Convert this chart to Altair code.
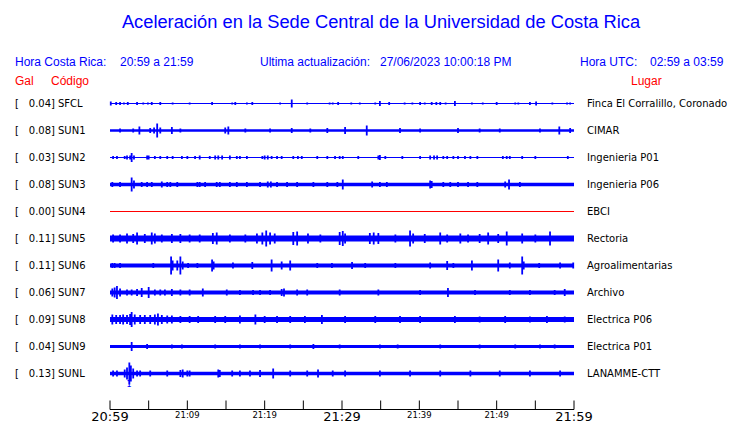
import altair as alt
import pandas as pd

# ---------------- data ----------------
stations = ["SFCL", "SUN1", "SUN2", "SUN3", "SUN4", "SUN5", "SUN6", "SUN7", "SUN8", "SUN9", "SUNL"]
gal = ["0.04", "0.08", "0.03", "0.08", "0.00", "0.11", "0.11", "0.06", "0.09", "0.04", "0.13"]
places = ["Finca El Corralillo, Coronado", "CIMAR", "Ingenieria P01", "Ingenieria P06", "EBCI",
          "Rectoria", "Agroalimentarias", "Archivo", "Electrica P06", "Electrica P01", "LANAMME-CTT"]
# half-width of the continuous noise band of each trace (display units)
base_amp = [0.5, 1.3, 0.5, 1.8, 0.0, 3.0, 2.0, 2.0, 2.5, 1.5, 1.8]

# spikes: minutes after 20:59 and half amplitude (display units)
t_SFCL = [0.1, 0.8, 1.3, 1.8, 2.3, 3.5, 4.3, 4.9, 5.4, 6.5, 8.1, 10.3, 13.2, 15.8, 16.2, 17.7, 18.4, 22.0, 23.5,
          25.5, 28.4, 28.8, 29.5, 31.2, 32.3, 34.3, 34.9, 36.1, 38.1, 39.1, 40.1, 40.7, 41.6, 42.2, 42.7, 43.4,
          44.6, 46.8, 48.2, 50.0, 52.4, 52.8, 54.3, 55.1, 57.2, 59.1, 59.5]
a_SFCL = [2, 1.5, 1.5, 1, 1.5, 1.5, 1, 1, 1.5, 1.5, 1, 1, 1.5, 1, 1.5, 1, 1.5, 1, 4,
          1, 1, 1, 1.5, 1, 1, 1, 2.5, 1.5, 1, 1, 1.5, 1, 1.5, 1.5, 1.5, 1,
          2.5, 1, 1, 1.5, 1, 1, 1.5, 2, 1, 1, 1]
t_SUN1 = [1.3, 3.0, 3.8, 5.2, 5.7, 6.1, 6.5, 8.0, 9.1, 14.9, 15.3, 17.5, 20.7, 23.5, 25.9, 28.1, 30.4, 33.2,
          37.5, 40.1, 45.0, 47.8, 50.4, 55.6, 58.1, 59.5]
a_SUN1 = [2, 2, 4, 2.5, 3, 7, 3, 3.5, 2, 3, 4, 2, 2, 2.5, 2, 2.5, 3.5, 5,
          2.5, 2, 2.5, 2, 2, 2, 4, 2.5]
t_SUN2 = [0.4, 0.9, 1.9, 2.2, 2.6, 2.8, 3.1, 4.8, 5.0, 5.8, 6.5, 7.4, 8.1, 9.3, 10.0, 11.0, 11.6, 12.9, 13.6,
          14.0, 14.5, 15.5, 16.4, 16.8, 17.7, 19.7, 20.0, 20.4, 20.9, 21.6, 22.2, 23.7, 24.3, 24.8, 26.8, 28.1,
          29.1, 29.7, 30.1, 32.1, 34.7, 34.9, 35.6, 37.8, 40.1, 41.4, 41.9, 42.3, 43.1, 43.6, 44.4, 45.0, 45.9,
          46.6, 47.5, 50.8, 51.3, 51.7, 53.3, 55.0, 59.2]
a_SUN2 = [1.5, 1.5, 1.5, 2, 2, 4.5, 2, 2, 2, 1.5, 1.5, 1.5, 1.5, 1.5, 1.5, 1.5, 2, 1.5, 2,
          2, 2, 2, 1.5, 1.5, 1.5, 1.5, 2, 2, 1.5, 1.5, 1.5, 1.5, 1.5, 1.5, 1.5, 1.5,
          1.5, 1.5, 1.5, 1.5, 2, 2.5, 1.5, 1.5, 1.5, 2, 2, 2, 1.5, 1.5, 1.5, 1.5, 1.5,
          1.5, 1.5, 1.5, 1.5, 1.5, 1.5, 1.5, 1.5]
t_SUN3 = [0.3, 1.3, 2.8, 3.1, 4.1, 4.8, 5.4, 6.7, 7.4, 7.8, 8.7, 11.3, 11.6, 12.3, 13.8, 14.2, 15.5, 16.4, 17.7,
          19.4, 20.4, 20.8, 21.6, 22.9, 24.2, 26.3, 28.1, 29.4, 30.1, 33.9, 34.9, 35.8, 41.4, 41.6, 43.1, 44.0,
          45.0, 46.3, 47.5, 51.1, 51.6, 53.0]
a_SUN3 = [2.5, 2.5, 7, 4, 2.5, 2.5, 2.5, 3, 2.5, 2.5, 2.5, 2.5, 2.5, 2.5, 2.5, 2.5, 2.5, 2.5, 2.5,
          2.5, 3, 3, 2.5, 2.5, 2.5, 2.5, 2.5, 2.5, 5, 3, 2.5, 2.5, 4, 3.5, 2.5, 2.5,
          2.5, 2.5, 2.5, 3, 5, 2.5]
t_SUN4 = []
a_SUN4 = []
t_SUN5 = [0.4, 1.3, 2.2, 3.0, 3.5, 4.5, 5.4, 5.8, 6.7, 8.0, 9.1, 10.3, 11.6, 13.3, 13.8, 15.5, 17.5, 19.0, 19.7,
          20.2, 20.7, 21.3, 23.7, 24.2, 25.6, 27.2, 29.7, 30.1, 30.4, 33.6, 34.1, 34.7, 36.9, 38.8, 39.2, 40.7,
          42.7, 43.6, 45.3, 46.3, 47.8, 48.9, 50.2, 51.3, 53.3, 55.0, 56.9]
a_SUN5 = [4, 4, 5, 4.5, 6, 4.5, 6, 5, 4, 4.5, 4.5, 4, 4, 5.5, 6, 4, 4, 5, 6,
          8, 6, 5, 6.5, 7, 5, 4, 6.5, 7.5, 5, 5.5, 6, 5.5, 4, 8, 5, 4.5,
          6, 4, 5, 4, 4.5, 6, 4.5, 7, 5, 4, 7]
t_SUN6 = [0.3, 0.6, 1.3, 5.6, 7.9, 8.1, 8.7, 9.1, 9.4, 10.1, 11.3, 13.2, 13.4, 15.9, 18.4, 20.9, 22.2, 23.3,
          26.8, 28.7, 31.3, 33.0, 36.9, 41.4, 43.6, 44.4, 46.8, 50.2, 51.7, 53.3, 53.5, 55.5, 58.2, 59.9]
a_SUN6 = [2.5, 2.5, 2.5, 2.5, 9, 5, 5, 9, 4, 2.5, 2.5, 6, 4, 3, 3.5, 6, 4, 5,
          2.5, 2.5, 3.5, 2.5, 2.5, 3, 4.5, 2.5, 5, 6, 3, 9, 4, 2.5, 3, 3]
t_SUN7 = [0.3, 0.6, 0.9, 1.3, 2.2, 2.8, 3.5, 4.1, 5.0, 5.8, 6.5, 7.1, 8.0, 9.1, 10.3, 12.0, 15.1, 16.8, 18.5,
          19.4, 20.7, 22.2, 22.5, 24.2, 25.5, 29.7, 34.7, 40.1, 43.7, 47.2, 51.7, 54.3, 57.5, 58.8]
a_SUN7 = [4, 5, 6.5, 4, 3, 3, 3.5, 4.5, 5.5, 3, 3, 3, 3.5, 3, 3, 4, 3, 2.5, 2.5,
          2.5, 2.5, 3.5, 4, 3, 3, 3, 3, 2.5, 4.5, 2.5, 2.5, 2.5, 2.5, 3.5]
t_SUN8 = [0.3, 0.8, 1.3, 1.7, 2.2, 2.6, 2.8, 3.2, 3.9, 4.5, 5.2, 5.8, 6.2, 6.7, 7.4, 8.0, 9.1, 10.3, 11.4,
          13.6, 14.9, 16.8, 18.8, 20.0, 21.6, 23.3, 25.2, 27.4, 30.4, 34.3, 37.5, 40.1, 44.6, 47.8, 51.1,
          54.3, 56.5, 58.8]
a_SUN8 = [5, 4.5, 4.5, 5, 4.5, 5.5, 7.5, 5, 4.5, 4.5, 4.5, 5, 6, 4.5, 4, 4, 3.5, 3.5, 3.5,
          3.5, 3.5, 4, 5, 3.5, 3.5, 3.5, 3.5, 4.5, 3.5, 3.5, 3.5, 3.5, 3.5, 3, 3.5,
          3, 3.5, 3]
t_SUN9 = [2.8, 4.8, 8.0, 9.3, 13.6, 16.8, 19.4, 23.3, 26.3, 29.7, 34.9, 37.2, 42.7, 47.8, 52.4, 55.6, 57.5]
a_SUN9 = [4.5, 2.5, 2, 2, 2, 2, 2, 2, 2.5, 2, 2, 2, 2, 2, 2, 2, 2]
t_SUNL = [0.4, 0.9, 1.9, 2.2, 2.5, 2.7, 3.0, 3.5, 3.9, 5.2, 7.4, 9.1, 9.4, 10.0, 10.3, 14.0, 14.2, 15.8, 16.8,
          18.1, 19.4, 21.1, 23.3, 25.5, 26.9, 28.8, 30.4, 34.9, 38.8, 42.7, 46.6, 50.4, 54.3, 58.2]
a_SUNL = [3, 3, 4, 6, 11, 8, 5, 3, 3, 3, 3, 3.5, 4, 3, 3, 4, 3.5, 3, 3,
          3, 3.5, 5, 3, 3, 4, 3, 3, 3, 3, 3, 3, 3, 3, 3]

spikes = {
    "SFCL": (t_SFCL, a_SFCL), "SUN1": (t_SUN1, a_SUN1), "SUN2": (t_SUN2, a_SUN2),
    "SUN3": (t_SUN3, a_SUN3), "SUN4": (t_SUN4, a_SUN4), "SUN5": (t_SUN5, a_SUN5),
    "SUN6": (t_SUN6, a_SUN6), "SUN7": (t_SUN7, a_SUN7), "SUN8": (t_SUN8, a_SUN8),
    "SUN9": (t_SUN9, a_SUN9), "SUNL": (t_SUNL, a_SUNL),
}

tick_minutes = [0, 5, 10, 15, 20, 25, 30, 35, 40, 45, 50, 55, 60]
major_minutes = [0, 30, 60]
major_labels = ["20:59", "21:29", "21:59"]
minor_minutes = [10, 20, 40, 50]
minor_labels = ["21:09", "21:19", "21:39", "21:49"]

# ---------------- layout ----------------
W, H = 724, 415
PX_MIN = 464 / 60.0          # pixels per minute
X0 = 102                     # pixel of 20:59 inside the view
ROW_PX = 27.0                # spacing between traces
ROW0 = 95.5                  # pixel of the first trace centre inside the view
BLUE = "#0000ff"
RED = "#ff0000"

xscale = alt.Scale(domain=[-X0 / PX_MIN, (W - X0) / PX_MIN], nice=False, zero=False)
yscale = alt.Scale(domain=[-ROW0 / ROW_PX, (H - ROW0) / ROW_PX], reverse=True, nice=False, zero=False)

n = len(stations)
base_df = pd.DataFrame({
    "station": stations,
    "row": list(range(n)),
    "gal": gal,
    "place": places,
    "base": base_amp,
    "start": [0] * n,
    "end": [60] * n,
})
base_df["lo"] = base_df["row"] - base_df["base"] / ROW_PX
base_df["hi"] = base_df["row"] + base_df["base"] / ROW_PX
base_df["galtxt"] = base_df["gal"] + "]"
base_df["trow"] = base_df["row"] + 0.6 / ROW_PX   # text optical centring

rows = []
for i, s in enumerate(stations):
    ts, amps = spikes[s]
    for t, a in zip(ts, amps):
        rows.append({"station": s, "t": t, "lo": i - a / ROW_PX, "hi": i + a / ROW_PX})
spike_df = pd.DataFrame(rows)

X = lambda f: alt.X(f, type="quantitative", scale=xscale, axis=None)
Y = lambda f: alt.Y(f, type="quantitative", scale=yscale, axis=None)

color_scale = alt.Scale(domain=stations, range=[RED if s == "SUN4" else BLUE for s in stations])

centre = alt.Chart(base_df).mark_rule(strokeWidth=1).encode(
    x=X("start"), x2="end", y=Y("row"),
    color=alt.Color("station:N", scale=color_scale, legend=None))

band = alt.Chart(base_df[base_df["base"] > 0.5]).mark_rect(color=BLUE).encode(
    x=X("start"), x2="end", y=Y("lo"), y2="hi")

spk = alt.Chart(spike_df).mark_rule(color=BLUE, strokeWidth=1.8).encode(
    x=X("t"), y=Y("lo"), y2="hi")

lab_font = "DejaVu Sans"
bracket = alt.Chart(base_df).mark_text(align="left", baseline="middle", font=lab_font, fontSize=10,
                                       color="black").encode(
    x=alt.value(7), y=Y("trow"), text=alt.value("["))
galtxt = alt.Chart(base_df).mark_text(align="right", baseline="middle", font=lab_font, fontSize=10,
                                      color="black").encode(
    x=alt.value(47), y=Y("trow"), text="galtxt:N")
code = alt.Chart(base_df).mark_text(align="left", baseline="middle", font=lab_font, fontSize=10,
                                    color="black").encode(
    x=alt.value(50), y=Y("trow"), text="station:N")
place = alt.Chart(base_df).mark_text(align="left", baseline="middle", font=lab_font, fontSize=10,
                                     color="black").encode(
    x=alt.value(579), y=Y("trow"), text="place:N")

# time axis
AXIS_Y = 401.5
axis_line = alt.Chart(pd.DataFrame({"a": [0], "b": [60]})).mark_rule(color="black", strokeWidth=1).encode(
    x=X("a"), x2="b", y=alt.value(AXIS_Y))
ticks = alt.Chart(pd.DataFrame({"m": tick_minutes})).mark_rule(color="black", strokeWidth=1).encode(
    x=X("m"), y=alt.value(AXIS_Y - 9), y2=alt.value(AXIS_Y))
major = alt.Chart(pd.DataFrame({"m": major_minutes, "l": major_labels})).mark_text(
    align="center", baseline="middle", font=lab_font, fontSize=13, color="black").encode(
    x=X("m"), y=alt.value(409), text="l:N")
minor = alt.Chart(pd.DataFrame({"m": minor_minutes, "l": minor_labels})).mark_text(
    align="center", baseline="middle", font=lab_font, fontSize=8.5, color="black").encode(
    x=X("m"), y=alt.value(407), text="l:N")
marker = alt.Chart(pd.DataFrame({"m": [2.46], "l": ["1"]})).mark_text(
    align="center", baseline="middle", font=lab_font, fontSize=8, color=BLUE).encode(
    x=X("m"), y=alt.value(377), text="l:N")


def txt(s, x, y, size=12, color=BLUE, align="left", font="Liberation Sans"):
    return alt.Chart(pd.DataFrame({"s": [s]})).mark_text(
        align=align, baseline="middle", font=font, fontSize=size, color=color).encode(
        x=alt.value(x), y=alt.value(y), text="s:N")


headers = [
    txt("Aceleración en la Sede Central de la Universidad de Costa Rica", 373, 15, size=18.3, align="center"),
    txt("Hora Costa Rica:", 7, 54),
    txt("20:59 a 21:59", 112, 54),
    txt("Ultima actualización:", 252, 54),
    txt("27/06/2023 10:00:18 PM", 372, 54),
    txt("Hora UTC:", 572, 54),
    txt("02:59 a 03:59", 642, 54),
    txt("Gal", 7, 73, color=RED),
    txt("Código", 43, 73, color=RED),
    txt("Lugar", 623, 73, color=RED),
]

chart = alt.layer(
    centre, band, spk, bracket, galtxt, code, place,
    axis_line, ticks, major, minor, marker, *headers
).properties(
    width=W, height=H, padding=0,
    autosize=alt.AutoSizeParams(type="none"),
).configure_view(stroke=None)

chart.save("out.html", embed_options={"renderer": "svg", "actions": False})
